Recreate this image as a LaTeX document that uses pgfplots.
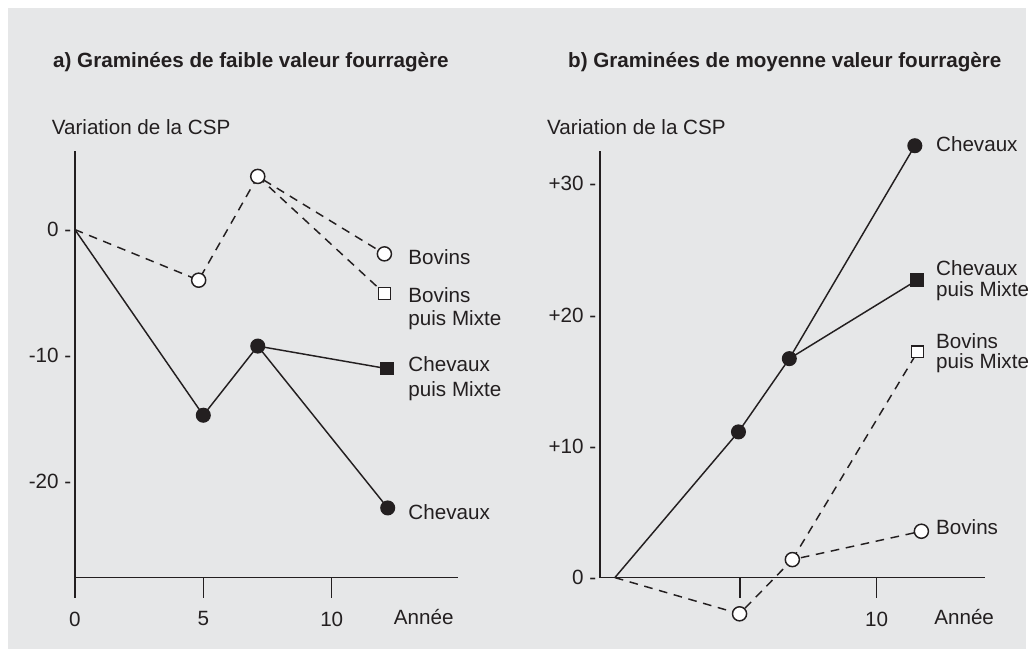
\documentclass[border=0pt]{standalone}
\usepackage{fontspec}
\setmainfont{Liberation Sans}
\usepackage{pgfplots}
\pgfplotsset{compat=1.18}
\definecolor{bg}{HTML}{E6E7E8}
\definecolor{ink}{HTML}{231F20}
\begin{document}
\begin{tikzpicture}[font=\fontsize{15.5}{18}\selectfont]
\fill[bg] (6pt,-6pt) rectangle (771pt,-487.5pt);
\path (0pt,0pt) rectangle (771.75pt,-487.5pt);
\pgfplotsset{
  panel/.style={scale only axis, axis x line=bottom, axis y line=left,
    axis line style={-, line width=1.1pt, ink}, clip=false,
    xtick align=outside, major tick length=15pt,
    xtick style={line width=1.1pt, ink}, ytick style={draw=none}, ytick align=inside,
    tick label style={font=\fontsize{15.5}{18}\selectfont, text=ink},
    yticklabel style={anchor=east, inner sep=0pt, xshift=-2.5pt},
    xticklabel style={anchor=north, inner sep=0pt, yshift=-10.5pt},
    anchor=south west, height=320.78pt},
  chev/.style={ink, line width=1.1pt, mark=*, mark size=5.1pt, mark options={fill=ink}},
  chevm/.style={ink, line width=1.1pt, mark=square*, mark size=4.5pt, mark options={fill=ink}},
  bov/.style={ink, line width=1.1pt, dash pattern=on 6.5pt off 5pt, mark=*, mark size=5.3pt, mark options={solid, fill=white}},
  bovm/.style={ink, line width=1.1pt, dash pattern=on 6.5pt off 5pt, mark=square*, mark size=4.4pt, mark options={solid, fill=white}},
}
% Left panel
\begin{axis}[panel, at={(56.25pt,-434.03pt)}, width=288pt,
  xmin=0, xmax=14.92, ymin=-27.63, ymax=6.26,
  xtick={0,5,10}, xticklabels={0,5,10},
  ytick={-20,-10,0}, yticklabels={-20 -,-10 -,0 -}]
\addplot[chevm, mark indices={2}] coordinates {(7.12,-9.25) (12.15,-11.04)};
\addplot[chev, mark indices={2,3,4}] coordinates {(0,0) (5,-14.74) (7.12,-9.25) (12.18,-22.1)};
\addplot[bovm, mark indices={2}] coordinates {(7.12,4.22) (12.05,-5.07)};
\addplot[bov, mark indices={2,3,4}] coordinates {(0,0) (4.82,-4.02) (7.12,4.22) (12.05,-1.93)};
\end{axis}
% Right panel
\begin{axis}[panel, at={(450.75pt,-434.03pt)}, width=289.3pt,
  xmin=-0.12, xmax=13.96, ymin=0, ymax=32.52,
  xtick={5,10}, xticklabels={,10},
  ytick={0,10,20,30}, yticklabels={0 -,+10 -,+20 -,+30 -}]
\addplot[chevm, mark indices={2}] coordinates {(6.81,16.68) (11.48,22.66)};
\addplot[chev, mark indices={2,3,4}] coordinates {(0.43,0) (4.95,11.1) (6.81,16.68) (11.4,32.9)};
\addplot[bovm, mark indices={2}] coordinates {(6.92,1.37) (11.5,17.2)};
\addplot[bov, mark indices={2,3,4}] coordinates {(0.43,0) (4.99,-2.76) (6.92,1.37) (11.64,3.53)};
\end{axis}
\begin{scope}[x=0.75pt, y=-0.75pt, every node/.style={inner sep=0pt, text=ink}]
\node[anchor=base west, font=\fontsize{15.5}{18}\selectfont\bfseries] at (53,68) {a) Graminées de faible valeur fourragère};
\node[anchor=base west, font=\fontsize{15.5}{18}\selectfont\bfseries] at (569,68) {b) Graminées de moyenne valeur fourragère};
\node[anchor=base west] at (51.7,135) {Variation de la CSP};
\node[anchor=base west] at (548,135) {Variation de la CSP};
\node[anchor=base west] at (409,265) {Bovins};
\node[anchor=base west] at (409,302.7) {Bovins};
\node[anchor=base west] at (409,326) {puis Mixte};
\node[anchor=base west] at (409,372.7) {Chevaux};
\node[anchor=base west] at (409,397) {puis Mixte};
\node[anchor=base west] at (409,520.3) {Chevaux};
\node[anchor=base] at (424.5,626) {Année};
\node[anchor=base west] at (937.7,152) {Chevaux};
\node[anchor=base west] at (937.7,276.3) {Chevaux};
\node[anchor=base west] at (937.7,297) {puis Mixte};
\node[anchor=base west] at (937.7,348.7) {Bovins};
\node[anchor=base west] at (937.7,369.7) {puis Mixte};
\node[anchor=base west] at (937.7,535.3) {Bovins};
\node[anchor=base] at (966,626) {Année};
\end{scope}
\end{tikzpicture}
\end{document}
